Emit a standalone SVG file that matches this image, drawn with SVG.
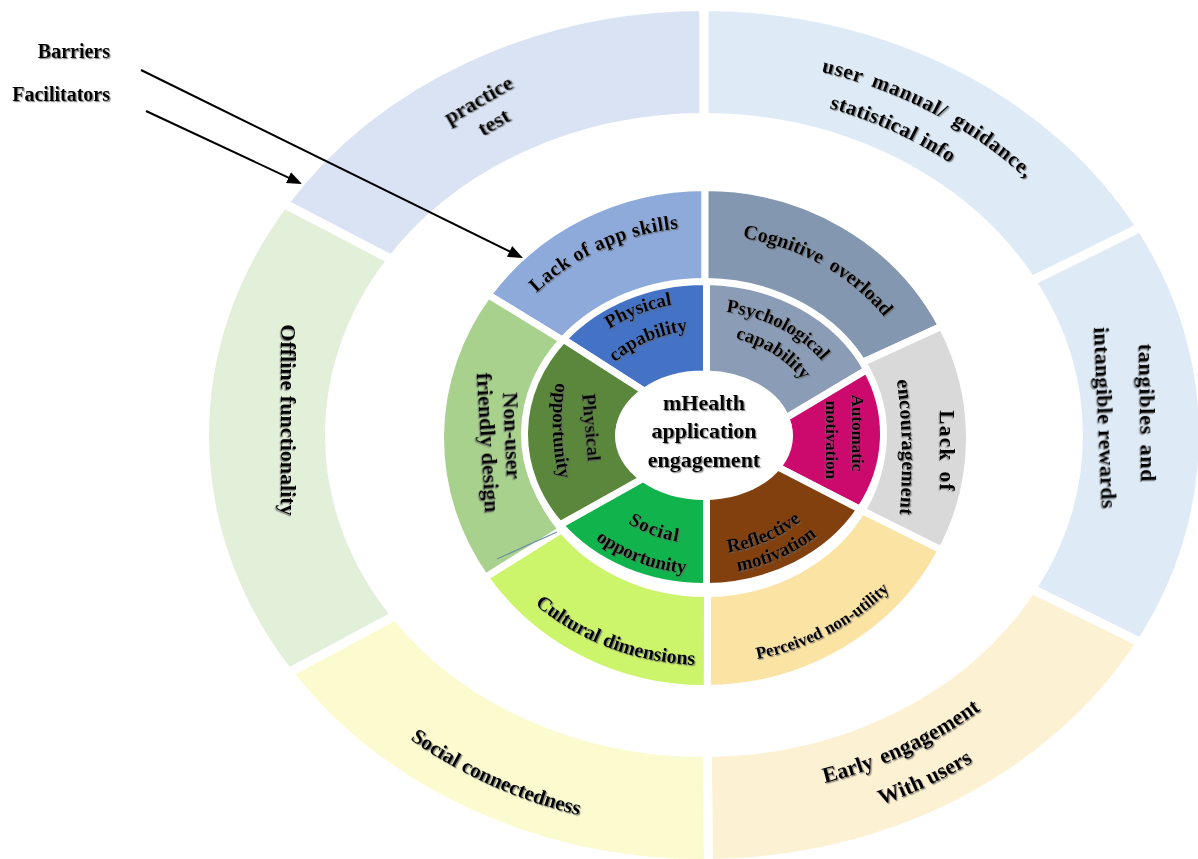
<svg xmlns="http://www.w3.org/2000/svg" width="1198" height="859" viewBox="0 0 1198 859">
<style>
.lbl{font-family:"Liberation Serif","Times New Roman",serif;font-weight:bold;fill:#000;filter:url(#sh)}
.so{stroke:#fff;stroke-width:9;stroke-linejoin:round}
.sm{stroke:#fff;stroke-width:7;stroke-linejoin:round}
.si{stroke:#fff;stroke-width:7;stroke-linejoin:round}
.arr{stroke:#000;stroke-width:2;fill:none;marker-end:url(#ah)}
</style>
<defs>
<filter id="sh" x="-10%" y="-10%" width="120%" height="130%"><feDropShadow dx="1.2" dy="1.2" stdDeviation="0.7" flood-color="#666" flood-opacity="0.75"/></filter>
<marker id="ah" viewBox="0 0 15 12" refX="7" refY="6" markerWidth="15" markerHeight="12" markerUnits="userSpaceOnUse" orient="auto"><path d="M0,0 L15,6 L0,12 z" fill="#000"/></marker>
<path id="tp-um" d="M719.3,58.2 A439,377 0 0 1 1091.6,258"/>
<path id="tp-stat" d="M728.5,91.7 A402,344 0 0 1 1027.2,230.4"/>
<path id="tp-early" d="M699.5,798 A424,363 0 0 0 1068.9,619.8"/>
<path id="tp-with" d="M739.7,833.8 A466,400 0 0 0 1082.9,667.8"/>
<path id="tp-socconn" d="M311.4,642 A461,395 0 0 0 716.9,829.8"/>
<path id="tp-lackapp" d="M500.2,338.9 A232,211 0 0 1 737.3,229"/>
<path id="tp-cog" d="M693.3,235.3 A223,203 0 0 1 910.3,358.7"/>
<path id="tp-enc" d="M892,350 Q910,448.5 896,545"/>
<path id="tp-perc" d="M685.5,663.3 A249,226 0 0 0 931.6,531.7"/>
<path id="tp-cult" d="M493,558.3 A250,227 0 0 0 757,660"/>
<path id="tp-pc1" d="M584.5,349.1 A156,132 0 0 1 704,302"/>
<path id="tp-pc2" d="M602.8,374.9 A123,104 0 0 1 705.3,330"/>
<path id="tp-psy1" d="M708.1,310.5 A146,123.5 0 0 1 832.4,375.3"/>
<path id="tp-psy2" d="M718.3,335.7 A117,99 0 0 1 811.7,395.3"/>
<path id="tp-ref1" d="M697.4,553.9 A141,120 0 0 0 822.7,498.8"/>
<path id="tp-ref2" d="M712.6,573.8 A165,140 0 0 0 835.8,518.3"/>
<path id="tp-soc1" d="M605.9,506.2 A130,110 0 0 0 706.3,544"/>
<path id="tp-soc2" d="M579.5,525.9 A165,140 0 0 0 706.9,574"/>
<path id="tp-po2" d="M558,372 Q546,431 562,490"/>
</defs>
<rect width="1198" height="859" fill="#fff"/>

<!-- Outer ring -->
<g id="node-practice-test">
<path class="so" fill="#dae3f3" d="M283.7,203.5 A499.5,428.5 0 0 1 704,6.5 L704,117.5 A374.5,317.5 0 0 0 391.7,259.8 Z"/>
<text class="lbl" font-size="22" text-anchor="middle" transform="translate(482,106) rotate(-30)"><tspan x="0" y="0">practice</tspan><tspan x="2" y="27">test</tspan></text>
</g>
<g id="node-user-manual">
<path class="so" fill="#deebf7" d="M704,6.5 A499.5,428.5 0 0 1 1140.9,227.3 L1031.5,281.1 A374.5,317.5 0 0 0 704,117.5 Z"/>
<text class="lbl" font-size="21" letter-spacing="0.8" word-spacing="4"><textPath href="#tp-um" startOffset="50%" text-anchor="middle">user manual/ guidance,</textPath></text>
<text class="lbl" font-size="21" letter-spacing="0.5"><textPath href="#tp-stat" startOffset="50%" text-anchor="middle">statistical info</textPath></text>
</g>
<g id="node-tangibles">
<path class="so" fill="#deebf7" d="M1140.9,227.3 A499.5,428.5 0 0 1 1140.9,642.7 L1031.5,588.9 A374.5,317.5 0 0 0 1031.5,281.1 Z"/>
<text class="lbl" font-size="22" text-anchor="middle" letter-spacing="0.8" word-spacing="3" transform="translate(1140,413) rotate(89)">tangibles and</text>
<text class="lbl" font-size="22" text-anchor="middle" letter-spacing="0.3" transform="translate(1098,418) rotate(87.5)">intangible rewards</text>
</g>
<g id="node-early-engagement">
<path class="so" fill="#fdf1d3" d="M1140.9,642.7 A499.5,428.5 0 0 1 708.4,863.5 L707.3,752.5 A374.5,317.5 0 0 0 1031.5,588.9 Z"/>
<text class="lbl" font-size="22" word-spacing="3"><textPath href="#tp-early" startOffset="50%" text-anchor="middle">Early engagement</textPath></text>
<text class="lbl" font-size="22"><textPath href="#tp-with" startOffset="50%" text-anchor="middle">With users</textPath></text>
</g>
<g id="node-social-connectedness">
<path class="so" fill="#fcfbd0" d="M708.4,863.5 A499.5,428.5 0 0 1 288.4,672.7 L395.7,615.3 A374.5,317.5 0 0 0 707.3,752.5 Z"/>
<text class="lbl" font-size="21"><textPath href="#tp-socconn" startOffset="50%" text-anchor="middle">Social connectedness</textPath></text>
</g>
<g id="node-offline">
<path class="so" fill="#e2f0d9" d="M288.4,672.7 A499.5,428.5 0 0 1 283.7,203.5 L391.7,259.8 A374.5,317.5 0 0 0 395.7,615.3 Z"/>
<text class="lbl" font-size="22" text-anchor="middle" transform="translate(281,420) rotate(90)">Offline functionality</text>
</g>

<!-- Middle ring -->
<g id="node-lack-app-skills">
<path class="sm" fill="#8eaadb" d="M488.1,294.7 A264.5,250.5 0 0 1 705,187.5 L705,282.5 A177.5,155.5 0 0 0 565.3,342.1 Z"/>
<text class="lbl" font-size="20" letter-spacing="0.5"><textPath href="#tp-lackapp" startOffset="50%" text-anchor="middle">Lack of app skills</textPath></text>
</g>
<g id="node-cognitive-overload">
<path class="sm" fill="#8497b0" d="M705,187.5 A264.5,250.5 0 0 1 941.7,326.2 L860.7,363.3 A177.5,155.5 0 0 0 705,282.5 Z"/>
<text class="lbl" font-size="20" word-spacing="4"><textPath href="#tp-cog" startOffset="50%" text-anchor="middle">Cognitive overload</textPath></text>
</g>
<g id="node-lack-encouragement">
<path class="sm" fill="#d9d9d9" d="M941.7,326.2 A264.5,250.5 0 0 1 941.5,550.2 L862,510.5 A177.5,155.5 0 0 0 860.7,363.3 Z"/>
<text class="lbl" font-size="21" text-anchor="middle" letter-spacing="1.5" word-spacing="3" transform="translate(940,451) rotate(90)">Lack of</text>
<text class="lbl" font-size="20" letter-spacing="0.3"><textPath href="#tp-enc" startOffset="50%" text-anchor="middle">encouragement</textPath></text>
</g>
<g id="node-perceived-non-utility">
<path class="sm" fill="#fbe3a4" d="M941.5,550.2 A264.5,250.5 0 0 1 707.3,688.5 L707.5,593.5 A177.5,155.5 0 0 0 862,510.5 Z"/>
<text class="lbl" font-size="17"><textPath href="#tp-perc" startOffset="50%" text-anchor="middle">Perceived non-utility</textPath></text>
</g>
<g id="node-cultural-dimensions">
<path class="sm" fill="#ccf56b" d="M707.3,688.5 A264.5,250.5 0 0 1 485.2,577.4 L561.6,529.6 A177.5,155.5 0 0 0 707.5,593.5 Z"/>
<text class="lbl" font-size="20"><textPath href="#tp-cult" startOffset="50%" text-anchor="middle">Cultural dimensions</textPath></text>
</g>
<g id="node-non-user-friendly">
<path class="sm" fill="#a9d18e" d="M485.2,577.4 A264.5,250.5 0 0 1 488.1,294.7 L565.3,342.1 A177.5,155.5 0 0 0 561.6,529.6 Z"/>
<text class="lbl" font-size="22" text-anchor="middle" transform="translate(505,436) rotate(87.5)">Non-user</text>
<text class="lbl" font-size="22" text-anchor="middle" transform="translate(481,443) rotate(86.5)">friendly design</text>
<line x1="497" y1="559" x2="557" y2="532" stroke="#6b93a3" stroke-width="1.3"/>
</g>

<!-- Inner ring -->
<g id="node-physical-capability">
<path class="si" fill="#4472c4" d="M563.3,339.3 A179.5,152.5 0 0 1 706.5,281.5 L706.5,374 A85,60 0 0 0 644.3,391.3 Z"/>
<text class="lbl" font-size="19"><textPath href="#tp-pc1" startOffset="50%" text-anchor="middle">Physical</textPath></text>
<text class="lbl" font-size="19"><textPath href="#tp-pc2" startOffset="50%" text-anchor="middle">capability</textPath></text>
</g>
<g id="node-psychological-capability">
<path class="si" fill="#8a9cb6" d="M706.5,281.5 A179.5,152.5 0 0 1 866.8,369.8 L785.9,418 A85,60 0 0 0 706.5,374 Z"/>
<text class="lbl" font-size="19"><textPath href="#tp-psy1" startOffset="50%" text-anchor="middle">Psychological</textPath></text>
<text class="lbl" font-size="19"><textPath href="#tp-psy2" startOffset="50%" text-anchor="middle">capability</textPath></text>
</g>
<g id="node-automatic-motivation">
<path class="si" fill="#cc0a6e" d="M866.8,369.8 A179.5,152.5 0 0 1 860.1,509.3 L775.9,466 A85,60 0 0 0 785.9,418 Z"/>
<text class="lbl" font-size="17" text-anchor="middle" transform="translate(852,433) rotate(90)">Automatic</text>
<text class="lbl" font-size="17" text-anchor="middle" transform="translate(826,440) rotate(90)">motivation</text>
</g>
<g id="node-reflective-motivation">
<path class="si" fill="#82400f" d="M860.1,509.3 A179.5,152.5 0 0 1 706.5,586.5 L706.5,494 A85,60 0 0 0 775.9,466 Z"/>
<text class="lbl" font-size="19"><textPath href="#tp-ref1" startOffset="50%" text-anchor="middle">Reflective</textPath></text>
<text class="lbl" font-size="19"><textPath href="#tp-ref2" startOffset="50%" text-anchor="middle">motivation</textPath></text>
</g>
<g id="node-social-opportunity">
<path class="si" fill="#11b44c" d="M706.5,586.5 A179.5,152.5 0 0 1 559.9,524.9 L645,477.2 A85,60 0 0 0 706.5,494 Z"/>
<text class="lbl" font-size="19" letter-spacing="1"><textPath href="#tp-soc1" startOffset="50%" text-anchor="middle">Social</textPath></text>
<text class="lbl" font-size="19"><textPath href="#tp-soc2" startOffset="50%" text-anchor="middle">opportunity</textPath></text>
</g>
<g id="node-physical-opportunity">
<path class="si" fill="#5a873b" d="M559.9,524.9 A179.5,152.5 0 0 1 563.3,339.3 L644.3,391.3 A85,60 0 0 0 645,477.2 Z"/>
<text class="lbl" font-size="19" text-anchor="middle" transform="translate(585,428) rotate(85)">Physical</text>
<text class="lbl" font-size="19"><textPath href="#tp-po2" startOffset="50%" text-anchor="middle">opportunity</textPath></text>
</g>

<!-- Centre -->
<g id="node-center">
<ellipse cx="704" cy="436" rx="89" ry="64" fill="#fff"/>
<text class="lbl" font-size="22" text-anchor="middle"><tspan x="704" y="410">mHealth</tspan><tspan x="704" y="438">application</tspan><tspan x="704" y="467">engagement</tspan></text>
</g>

<!-- Legend -->
<g id="node-legend">
<text class="lbl" font-size="20" text-anchor="end" x="110" y="58">Barriers</text>
<text class="lbl" font-size="20" text-anchor="end" x="110" y="101">Facilitators</text>
</g>

<g id="connectors">
<line class="arr" x1="141" y1="70" x2="515.8" y2="254.5"/>
<line class="arr" x1="146" y1="111" x2="294.8" y2="180.6"/>
</g>
</svg>
